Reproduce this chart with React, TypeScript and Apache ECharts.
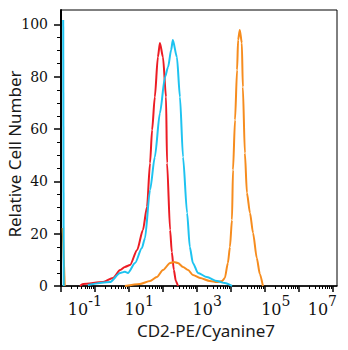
import React, { useEffect, useRef } from "react";
import * as echarts from "echarts";

// ---- data (x = log10 of CD2-PE/Cyanine7 intensity, y = relative cell number) ----
const yTicks = [0, 20, 40, 60, 80, 100];
const yMinorTicks = [5, 10, 15, 25, 30, 35, 45, 50, 55, 65, 70, 75, 85, 90, 95];
const xDecades = [-1, 0, 1, 2, 3, 4, 5, 6, 7];
const xLabelExps = [-1, 1, 3, 5, 7];
const minorMultipliers = [2, 3, 4, 5, 6, 7, 8, 9];

const redX = [-0.44, -0.35, 0.24, 0.53, 0.74, 0.88, 1.03, 1.24, 1.41, 1.53, 1.62, 1.68, 1.76, 1.85, 1.91, 2.0, 2.09, 2.12, 2.21, 2.26, 2.32, 2.38, 2.44];
const redY = [0, 0.8, 1.5, 3.1, 6.1, 7.3, 8.0, 13.8, 21.4, 30.2, 47.0, 59.6, 72.2, 87.5, 92.9, 87.5, 72.2, 47.0, 21.4, 13.0, 6.1, 1.9, 0];

const cyanX = [-0.935, -0.92, -0.92, -0.21, 0.44, 0.74, 0.88, 0.97, 1.18, 1.38, 1.47, 1.62, 1.76, 1.91, 2.06, 2.15, 2.24, 2.29, 2.41, 2.5, 2.59, 2.71, 2.79, 2.88, 3.03, 3.29, 3.59, 3.82, 4.03];
const cyanY = [101.7, 0, null, 0.4, 1.5, 5.0, 5.4, 5.0, 8.8, 14.5, 18.3, 36.7, 49.3, 66.1, 79.9, 83.7, 90.2, 94.0, 87.5, 72.2, 49.3, 27.9, 14.9, 8.8, 5.0, 3.4, 1.9, 1.1, 0];

const orangeX = [-0.95, -0.89, -0.89, 0.88, 1.32, 1.62, 1.82, 2.0, 2.21, 2.32, 2.44, 2.59, 2.74, 2.88, 3.09, 3.38, 3.59, 3.74, 3.82, 3.91, 3.97, 4.03, 4.06, 4.12, 4.18, 4.21, 4.26, 4.32, 4.35, 4.41, 4.47, 4.56, 4.65, 4.76, 4.85, 4.94];
const orangeY = [22.2, 0, null, 0, 0.8, 1.9, 3.4, 6.1, 8.8, 9.2, 8.8, 7.3, 6.1, 4.2, 3.1, 1.9, 1.5, 1.9, 3.1, 8.8, 14.9, 25.2, 44.3, 63.5, 82.6, 94.0, 97.9, 92.9, 76.1, 50.8, 35.6, 27.9, 20.3, 10.7, 4.6, 0];

// ---- layout constants ----
const X_LABEL_SHIFT = [0.7, 0.3, 0.3, 0.32, -0.31];
const X_MIN = -1;
const X_MAX = 7.12;
const Y_MIN = 0;
const Y_MAX = 105.5;

// split a curve at null gaps into separate polyline segments
const segments = (xs: number[], ys: (number | null)[]) => {
  const out: number[][][] = [];
  let cur: number[][] = [];
  xs.forEach((x, i) => {
    const y = ys[i];
    if (y == null) {
      if (cur.length) out.push(cur);
      cur = [];
    } else {
      cur.push([x, y]);
    }
  });
  if (cur.length) out.push(cur);
  return out;
};

export default function App() {
  const ref = useRef<HTMLDivElement>(null);
  useEffect(() => {
    if (!ref.current) return;
    const chart = echarts.init(ref.current, null, { renderer: "svg" });
    const minorX: number[] = [];
    xDecades.forEach((d) => {
      minorMultipliers.forEach((m) => {
        const v = d + Math.log10(m);
        if (v < X_MAX) minorX.push(v);
      });
    });
    const labelPos = xLabelExps.map((e, i) => e + X_LABEL_SHIFT[i]);
    const serif = "DejaVu Serif";
    const sans = "Noto Sans";
    const curves = [
      { name: "red", color: "#ec1c24", xs: redX, ys: redY as (number | null)[] },
      { name: "orange", color: "#f68c1e", xs: orangeX, ys: orangeY },
      { name: "cyan", color: "#1ec3f0", xs: cyanX, ys: cyanY },
    ];
    const series: any[] = [];
    curves.forEach((c, ci) => {
      segments(c.xs, c.ys).forEach((seg, si) => {
        series.push({
          type: "line",
          name: `${c.name}-${si}`,
          data: seg,
          showSymbol: false,
          symbol: "none",
          smooth: seg.length > 2 ? 0.25 : false,
          smoothMonotone: "x",
          xAxisIndex: 0,
          yAxisIndex: 0,
          z: 5 + ci,
          clip: false,
          lineStyle: { color: c.color, width: 2 },
          itemStyle: { color: c.color },
        });
      });
    });
    chart.setOption({
      animation: false,
      grid: {
        left: 61,
        right: 11,
        top: 10,
        bottom: 64,
        show: true,
        borderColor: "#000",
        borderWidth: 1,
        backgroundColor: "transparent",
        outerBoundsMode: "none",
      },
      xAxis: [
        {
          type: "value",
          min: X_MIN,
          max: X_MAX,
          position: "bottom",
          offset: 0,
          axisLine: { show: true, onZero: false, lineStyle: { color: "#000", width: 1.5 } },
          axisTick: { show: true, customValues: xDecades, length: 6, lineStyle: { color: "#000", width: 1.5 } },
          axisLabel: {
            show: true,
            customValues: labelPos,
            margin: 8,
            formatter: (v: number) => {
              let idx = 0;
              let best = Infinity;
              labelPos.forEach((p, i) => {
                const d = Math.abs(p - v);
                if (d < best) { best = d; idx = i; }
              });
              return `{b|10}{s|${xLabelExps[idx]}}`;
            },
            rich: {
              b: { fontFamily: serif, fontSize: 16, lineHeight: 30, color: "#111" },
              s: { fontFamily: serif, fontSize: 14, lineHeight: 15, verticalAlign: "top", color: "#111" },
            },
          },
          splitLine: { show: false },
        },
        {
          type: "value",
          min: X_MIN,
          max: X_MAX,
          position: "bottom",
          offset: 0,
          axisLine: { show: false, onZero: false },
          axisTick: { show: true, customValues: minorX, length: 3, lineStyle: { color: "#000", width: 1 } },
          axisLabel: { show: false },
          splitLine: { show: false },
        },
      ],
      yAxis: [
        {
          type: "value",
          min: Y_MIN,
          max: Y_MAX,
          position: "left",
          offset: 0,
          axisLine: { show: true, onZero: false, lineStyle: { color: "#000", width: 2 } },
          axisTick: { show: true, customValues: yTicks, length: 7, lineStyle: { color: "#000", width: 1.5 } },
          axisLabel: {
            show: true,
            customValues: yTicks,
            margin: 13,
            fontFamily: serif,
            fontSize: 14,
            color: "#111",
          },
          splitLine: { show: false },
        },
        {
          type: "value",
          min: Y_MIN,
          max: Y_MAX,
          position: "left",
          offset: 0,
          axisLine: { show: false, onZero: false },
          axisTick: { show: true, customValues: yMinorTicks, length: 4, lineStyle: { color: "#000", width: 1 } },
          axisLabel: { show: false },
          splitLine: { show: false },
        },
      ],
      graphic: [
        {
          type: "text",
          x: 14,
          y: 154,
          rotation: Math.PI / 2,
          style: {
            text: "Relative Cell Number",
            font: `17px "${sans}"`,
            fill: "#1a1a1a",
            align: "center",
            verticalAlign: "middle",
            textAlign: "center",
            textVerticalAlign: "middle",
          },
        },
        {
          type: "text",
          x: 206,
          y: 330,
          style: {
            text: "CD2-PE/Cyanine7",
            font: `17px "${sans}"`,
            fill: "#1a1a1a",
            align: "center",
            verticalAlign: "middle",
            textAlign: "center",
            textVerticalAlign: "middle",
          },
        },
      ],
      series,
    });
    return () => chart.dispose();
  }, []);
  return <div ref={ref} style={{ width: 348, height: 350, position: "absolute", left: 0, top: 0 }} />;
}
